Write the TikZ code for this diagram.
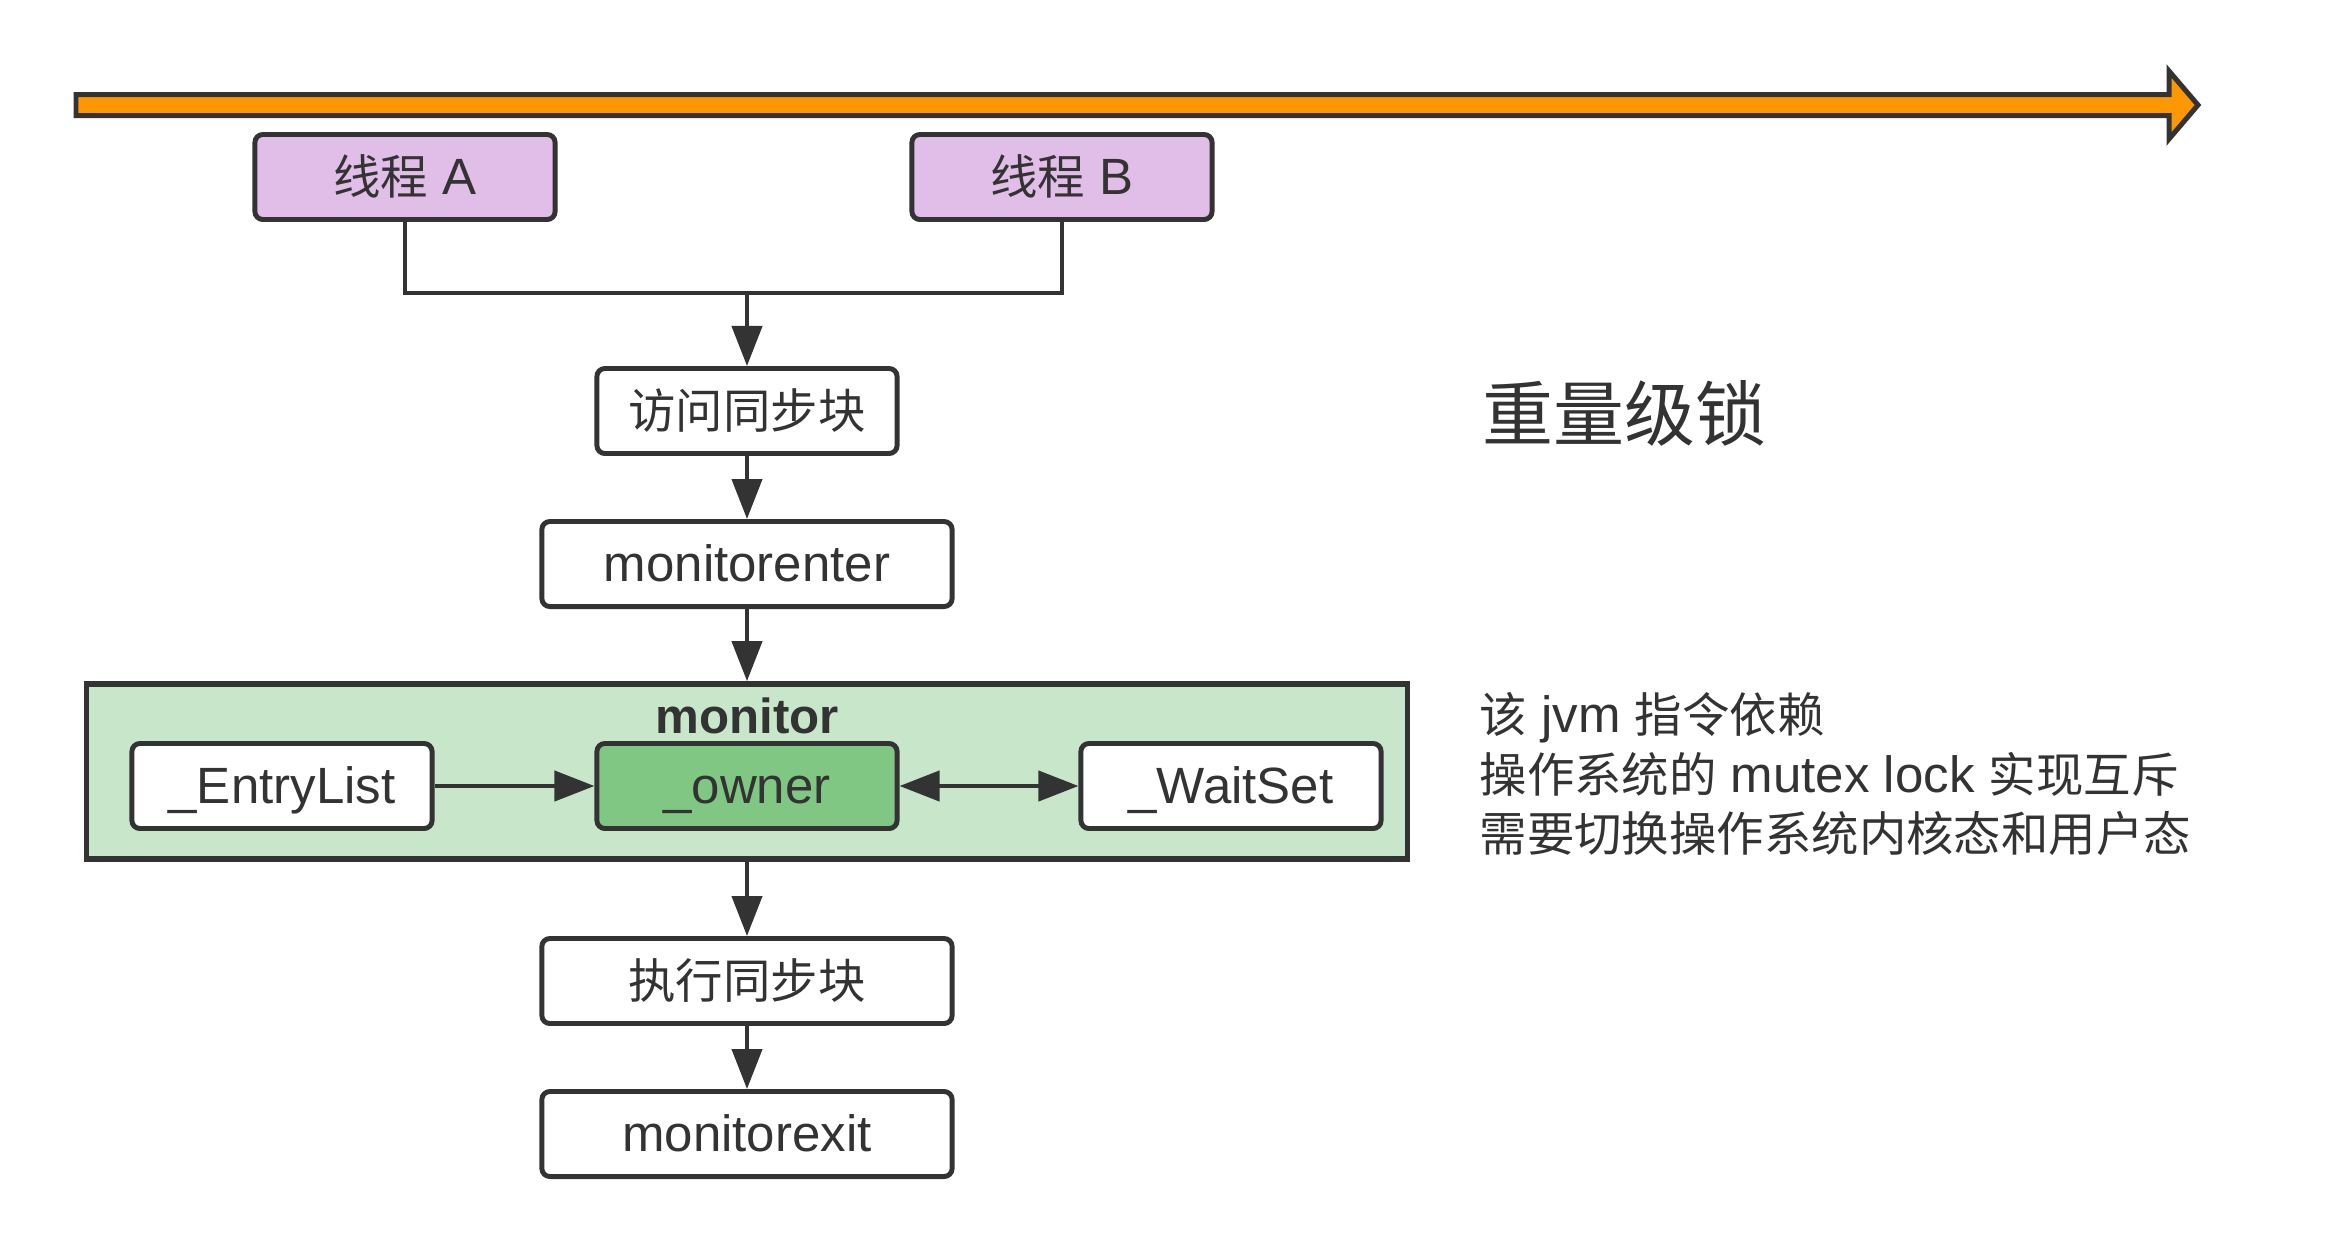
\documentclass[tikz,border=0pt]{standalone}
\usepackage{fontspec}
\setmainfont{Liberation Sans}
\newfontfamily\cjk[Scale=0.93]{Noto Sans CJK SC}
\usepackage{xcolor}
\usetikzlibrary{arrows.meta, positioning}

\definecolor{darkline}{HTML}{333333}
\definecolor{threadfill}{HTML}{E1BEE7}
\definecolor{monitorfill}{HTML}{C8E6C9}
\definecolor{ownerfill}{HTML}{81C784}
\definecolor{timeorange}{HTML}{FF9800}

\begin{document}
\begin{tikzpicture}[
  x=0.01cm, y=-0.01cm,
  node distance=0.63cm,
  box/.style={rectangle, draw=darkline, fill=white, line width=1.4pt, minimum width=4.1cm, minimum height=0.85cm, text centered, rounded corners=0.08cm, text=darkline, text height=12pt, text depth=2pt, font=\fontsize{14.5}{17}\selectfont},
  thread/.style={box, fill=threadfill, minimum width=3cm},
  small/.style={box, minimum width=3cm},
  ownerbox/.style={box, fill=ownerfill, minimum width=3cm},
  container/.style={rectangle, draw=darkline, fill=monitorfill, line width=1.6pt, minimum width=13.2cm, minimum height=1.75cm},
  note/.style={anchor=west, inner sep=0pt, align=left, text=darkline, font=\fontsize{14.5}{17}\selectfont},
  line/.style={draw=darkline, line width=1.2pt},
  arrow/.style={line, -{Triangle[length=0.4cm, width=0.3cm]}},
  double_arrow/.style={line, {Triangle[length=0.4cm, width=0.3cm]}-{Triangle[length=0.4cm, width=0.3cm]}}
]
\useasboundingbox (0,0) rectangle (2329,1251);

% Time line
\draw [draw=darkline, fill=timeorange, line width=1.42pt, line join=miter]
  (76,94.5) -- (2169,94.5) -- (2169,71) -- (2198,105) -- (2169,139) -- (2169,115.5) -- (76,115.5) -- cycle;

% Threads
\node (threadA) [thread] at (405,177) {{\cjk 线程} A};
\node (threadB) [thread] at (1062,177) {{\cjk 线程} B};
\coordinate (join) at (747,293);

% Main Flow
\node (visit) [box, minimum width=3cm] at (747,411) {\cjk 访问同步块};
\node (enter) [box, below=of visit] {monitorenter};

% Monitor
\node (monitor) [container] at (747,771.5) {};
\node (monitorlabel) [font=\bfseries\fontsize{14}{17}\selectfont, text=darkline] at (747,716) {monitor};
\node (entrylist) [small] at (282,786) {\_EntryList};
\node (owner) [ownerbox] at (747,786) {\_owner};
\node (waitset) [small] at (1231,786) {\_WaitSet};

\node (exec) [box] at (747,981) {\cjk 执行同步块};
\node (exit) [box, below=of exec] {monitorexit};

% Notes
\node (title) [note, font=\fontsize{21.7}{26}\selectfont] at (1482,413) {\cjk 重量级锁};
\node (desc) [note] at (1479,774) {{\cjk 该} jvm {\cjk 指令依赖}\\{\cjk 操作系统的} mutex lock {\cjk 实现互斥}\\{\cjk 需要切换操作系统内核态和用户态}};

% Arrows
\draw [line] (threadA.south) |- (join) -| (threadB.south);
\draw [arrow] (join) -- (visit.north);
\draw [arrow] (visit) -- (enter);
\draw [arrow] (enter) -- (monitor.north);
\draw [arrow] (entrylist) -- (owner);
\draw [double_arrow] (owner) -- (waitset);
\draw [arrow] (monitor.south) -- (exec.north);
\draw [arrow] (exec) -- (exit);
\end{tikzpicture}
\end{document}
